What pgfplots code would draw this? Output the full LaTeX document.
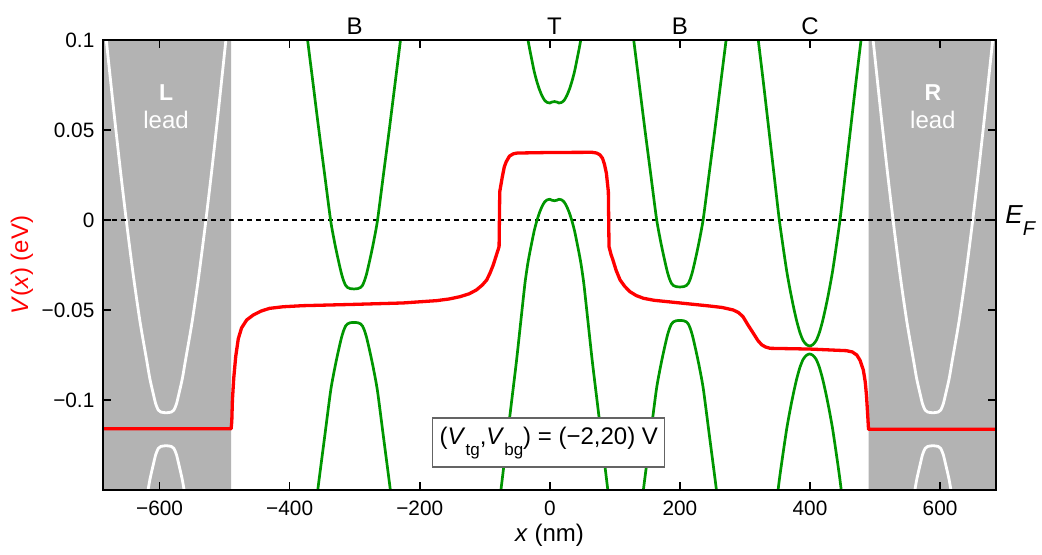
\documentclass[border=0pt]{standalone}
\usepackage{pgfplots}
\pgfplotsset{compat=1.18}
\usepackage{fontspec}
\setmainfont{Liberation Sans}
\definecolor{bandgreen}{RGB}{0,150,0}
\definecolor{leadgray}{RGB}{179,179,179}
\definecolor{boxgray}{RGB}{100,100,100}
% lowered subscript in the style of the labels
\newcommand{\lowsub}[2]{\raisebox{#1}{\fontsize{8.5}{10}\selectfont #2}}

\begin{document}
\begin{tikzpicture}
\begin{axis}[
  name=main, at={(0,0)}, anchor=south west,
  scale only axis, width=446.5pt, height=225pt,
  xmin=-687, xmax=686, ymin=-0.15, ymax=0.1,
  xtick={-600,-400,-200,0,200,400,600},
  xticklabels={−600,−400,−200,0,200,400,600},
  ytick={-0.1,-0.05,0,0.05,0.1},
  yticklabels={−0.1,−0.05,0,0.05,0.1},
  tick align=inside, major tick length=4pt,
  tick style={black, line width=0.8pt},
  axis line style={line width=1pt},
  ticklabel style={font=\fontsize{10.4}{12}\selectfont},
  xticklabel style={yshift=-1.8pt},
  yticklabel style={xshift=-0.8pt},
  label style={font=\fontsize{12}{14}\selectfont},
  xlabel={\textit{x} (nm)},
  ylabel={\textit{V}(\textit{x}) (eV)},
  xlabel style={at={(axis description cs:0.5,0)}, anchor=center, yshift=-22.5pt},
  ylabel style={red, at={(axis description cs:-0.0907,0.5)}, anchor=center},
  clip mode=individual, axis on top,
]
% lead regions
\addplot[draw=none, fill=leadgray] coordinates {(-690,-0.16) (-490,-0.16) (-490,0.11) (-690,0.11) (-690,-0.16)};
\addplot[draw=none, fill=leadgray] coordinates {(490,-0.16) (690,-0.16) (690,0.11) (490,0.11) (490,-0.16)};

% lead bands
\addplot[white, line width=1.4pt, smooth, tension=0.4] coordinates {(-687,0.1174) (-680,0.0933) (-670,0.0593) (-660,0.0268) (-650,-0.0037) (-640,-0.0318) (-630,-0.0567) (-620,-0.0776) (-615,-0.0881) (-610,-0.0961) (-606,-0.1021) (-602,-0.1056) (-598,-0.1067) (-590,-0.1071) (-582,-0.1067) (-578,-0.1056) (-574,-0.1021) (-570,-0.0961) (-565,-0.0881) (-560,-0.0776) (-550,-0.0567) (-540,-0.0318) (-530,-0.0037) (-520,0.0268) (-510,0.0593) (-500,0.0933) (-493,0.1174)};
\addplot[white, line width=1.4pt, smooth, tension=0.4] coordinates {(-630,-0.1758) (-620,-0.1549) (-615,-0.1444) (-610,-0.1364) (-606,-0.1304) (-602,-0.1269) (-598,-0.1258) (-590,-0.1254) (-582,-0.1258) (-578,-0.1269) (-574,-0.1304) (-570,-0.1364) (-565,-0.1444) (-560,-0.1549) (-550,-0.1758)};
\addplot[white, line width=1.4pt, smooth, tension=0.4] coordinates {(492,0.1174) (499,0.0933) (509,0.0593) (519,0.0268) (529,-0.0037) (539,-0.0318) (549,-0.0567) (559,-0.0776) (564,-0.0881) (569,-0.0961) (573,-0.1021) (577,-0.1056) (581,-0.1067) (589,-0.1071) (597,-0.1067) (601,-0.1056) (605,-0.1021) (609,-0.0961) (614,-0.0881) (619,-0.0776) (629,-0.0567) (639,-0.0318) (649,-0.0037) (659,0.0268) (669,0.0593) (679,0.0933) (686,0.1174)};
\addplot[white, line width=1.4pt, smooth, tension=0.4] coordinates {(549,-0.1758) (559,-0.1549) (564,-0.1444) (569,-0.1364) (573,-0.1304) (577,-0.1269) (581,-0.1258) (589,-0.1254) (597,-0.1258) (601,-0.1269) (605,-0.1304) (609,-0.1364) (614,-0.1444) (619,-0.1549) (629,-0.1758)};

% Fermi level
\addplot[black, line width=0.85pt, dash pattern=on 2.7pt off 1.8pt] coordinates {(-687,0) (686,0)};

% band edges in the device
\addplot[bandgreen, line width=1.35pt, smooth, tension=0.4] coordinates {(-377,0.1137) (-373,0.1017) (-364,0.0757) (-355,0.0497) (-346,0.0247) (-337,-0.0003) (-331,-0.0123) (-327,-0.0193) (-323,-0.0258) (-320,-0.0303) (-317,-0.0338) (-314,-0.0363) (-311,-0.0375) (-307,-0.0381) (-301,-0.0383) (-295,-0.0381) (-291,-0.0375) (-288,-0.0363) (-285,-0.0338) (-282,-0.0303) (-279,-0.0258) (-275,-0.0193) (-271,-0.0123) (-265,-0.0003) (-256,0.0247) (-247,0.0497) (-238,0.0757) (-229,0.1017) (-225,0.1137)};
\addplot[bandgreen, line width=1.35pt, smooth, tension=0.4] coordinates {(-364,-0.1709) (-355,-0.1449) (-346,-0.1199) (-337,-0.0949) (-331,-0.0829) (-327,-0.0759) (-323,-0.0694) (-320,-0.0649) (-317,-0.0614) (-314,-0.0589) (-311,-0.0577) (-307,-0.0571) (-301,-0.0569) (-295,-0.0571) (-291,-0.0577) (-288,-0.0589) (-285,-0.0614) (-282,-0.0649) (-279,-0.0694) (-275,-0.0759) (-271,-0.0829) (-265,-0.0949) (-256,-0.1199) (-247,-0.1449) (-238,-0.1709)};
\addplot[bandgreen, line width=1.35pt, smooth, tension=0.4] coordinates {(-42,0.124) (-38,0.111) (-34,0.101) (-31,0.095) (-28,0.0895) (-24,0.0825) (-20,0.077) (-16,0.0725) (-12,0.069) (-8,0.0665) (-4,0.0653) (0,0.065) (3,0.0655) (7,0.0658) (11,0.0655) (14,0.065) (18,0.0653) (22,0.0665) (26,0.069) (30,0.0725) (34,0.077) (38,0.0825) (42,0.0895) (45,0.095) (48,0.101) (52,0.111) (56,0.124)};
\addplot[bandgreen, line width=1.35pt, smooth, tension=0.4] coordinates {(-81,-0.1675) (-76,-0.1525) (-67,-0.1255) (-59,-0.1015) (-51,-0.0775) (-42,-0.0475) (-38,-0.0345) (-34,-0.0245) (-31,-0.0185) (-28,-0.013) (-24,-0.006) (-20,-0.0005) (-16,0.004) (-12,0.0075) (-8,0.010) (-4,0.0112) (0,0.0115) (3,0.011) (7,0.0107) (11,0.011) (14,0.0115) (18,0.0112) (22,0.010) (26,0.0075) (30,0.004) (34,-0.0005) (38,-0.006) (42,-0.013) (45,-0.0185) (48,-0.0245) (52,-0.0345) (56,-0.0475) (65,-0.0775) (73,-0.1015) (81,-0.1255) (90,-0.1525) (95,-0.1675)};
\addplot[bandgreen, line width=1.35pt, smooth, tension=0.4] coordinates {(124,0.1148) (128,0.1028) (137,0.0768) (146,0.0508) (155,0.0258) (164,0.0008) (170,-0.0112) (174,-0.0182) (178,-0.0247) (181,-0.0292) (184,-0.0327) (187,-0.0352) (190,-0.0364) (194,-0.0370) (200,-0.0372) (206,-0.0370) (210,-0.0364) (213,-0.0352) (216,-0.0327) (219,-0.0292) (222,-0.0247) (226,-0.0182) (230,-0.0112) (236,0.0008) (245,0.0258) (254,0.0508) (263,0.0768) (272,0.1028) (276,0.1148)};
\addplot[bandgreen, line width=1.35pt, smooth, tension=0.4] coordinates {(137,-0.1698) (146,-0.1438) (155,-0.1188) (164,-0.0938) (170,-0.0818) (174,-0.0748) (178,-0.0683) (181,-0.0638) (184,-0.0603) (187,-0.0578) (190,-0.0566) (194,-0.0560) (200,-0.0558) (206,-0.0560) (210,-0.0566) (213,-0.0578) (216,-0.0603) (219,-0.0638) (222,-0.0683) (226,-0.0748) (230,-0.0818) (236,-0.0938) (245,-0.1188) (254,-0.1438) (263,-0.1698)};
\addplot[bandgreen, line width=1.35pt, smooth, tension=0.4] coordinates {(315.5,0.115) (319.5,0.103) (328.5,0.076) (336.5,0.051) (344.5,0.026) (352.5,0.001) (359.5,-0.017) (364.5,-0.029) (369.5,-0.039) (374.5,-0.048) (379.5,-0.056) (384.5,-0.0625) (389.5,-0.067) (394.5,-0.0692) (399.5,-0.0700) (404.5,-0.0692) (409.5,-0.067) (414.5,-0.0625) (419.5,-0.056) (424.5,-0.048) (429.5,-0.039) (434.5,-0.029) (439.5,-0.017) (446.5,0.001) (454.5,0.026) (462.5,0.051) (470.5,0.076) (479.5,0.103) (483.5,0.115)};
\addplot[bandgreen, line width=1.35pt, smooth, tension=0.4] coordinates {(336.5,-0.1954) (344.5,-0.1704) (352.5,-0.1454) (359.5,-0.1274) (364.5,-0.1154) (369.5,-0.1054) (374.5,-0.0964) (379.5,-0.0884) (384.5,-0.0819) (389.5,-0.0774) (394.5,-0.0752) (399.5,-0.0744) (404.5,-0.0752) (409.5,-0.0774) (414.5,-0.0819) (419.5,-0.0884) (424.5,-0.0964) (429.5,-0.1054) (434.5,-0.1154) (439.5,-0.1274) (446.5,-0.1454) (454.5,-0.1704) (462.5,-0.1954)};

% electrostatic potential
\addplot[red, line width=1.65pt, line join=round] coordinates {(-687,-0.1160) (-490,-0.1160) (-489,-0.112) (-488,-0.100) (-486,-0.088) (-483,-0.076) (-479,-0.066) (-474,-0.060) (-466,-0.0555) (-456,-0.0528) (-444,-0.0506) (-431,-0.0491) (-410,-0.0482) (-380,-0.0476) (-303,-0.0469) (-226,-0.0461) (-174,-0.0448) (-155,-0.0439) (-138,-0.0426) (-124,-0.0410) (-113,-0.0389) (-104,-0.0362) (-97,-0.0333) (-92,-0.0295) (-87,-0.025) (-78,-0.0148) (-77,0.0157) (-73,0.0241) (-70,0.0295) (-67,0.0324) (-62,0.0355) (-56,0.0368) (-50,0.0372) (0,0.0375) (65,0.0376) (72,0.0372) (77,0.0362) (81,0.0343) (84,0.031) (87,0.0259) (90,0.0157) (91,-0.0148) (94,-0.019) (97,-0.0222) (102,-0.028) (108,-0.0333) (115,-0.0368) (123,-0.0398) (133,-0.0420) (144,-0.0435) (160,-0.0446) (195,-0.0459) (246,-0.0478) (265,-0.0486) (282,-0.0500) (290,-0.0514) (297,-0.0537) (305,-0.0585) (313,-0.0630) (320,-0.0670) (326,-0.0694) (332,-0.0706) (339,-0.0713) (400,-0.0717) (456,-0.0726) (465,-0.0733) (472,-0.0750) (477,-0.0780) (482,-0.0833) (485,-0.0900) (487,-0.0981) (489,-0.110) (490,-0.1163) (686,-0.1163)};

% annotations
\node[white, font=\fontsize{11.5}{13}\selectfont\bfseries] at (axis cs:-590,0.0707) {L};
\node[white, font=\fontsize{12}{14}\selectfont] at (axis cs:-590,0.0554) {lead};
\node[white, font=\fontsize{11.5}{13}\selectfont\bfseries] at (axis cs:589,0.0707) {R};
\node[white, font=\fontsize{12}{14}\selectfont] at (axis cs:589,0.0554) {lead};
\foreach \xx/\lab in {-300/B, 7/T, 200/B, 400/C}{
  \edef\tmp{\noexpand\node[anchor=base, font=\noexpand\fontsize{12}{14}\noexpand\selectfont] at (axis cs:\xx,0.1) [yshift=2.5pt] {\lab};}
  \tmp
}
\node[anchor=base west, inner sep=0, font=\fontsize{13}{15}\selectfont] at (axis cs:686,-0.0022) [xshift=4.5pt] {\textit{E}\lowsub{-6pt}{\fontsize{10}{12}\selectfont\textit{F}}};
\node[draw=boxgray, line width=0.6pt, fill=white, minimum width=116pt, minimum height=24.5pt, inner sep=0] at (axis cs:-1.5,-0.1236) {};
\node[anchor=base, inner sep=0, font=\fontsize{12}{14}\selectfont] at (axis cs:-1.5,-0.125) {(\textit{V}\lowsub{-5.5pt}{tg},\textit{V}\lowsub{-5.5pt}{bg}) = (−2,20) V};
\end{axis}
\pgfresetboundingbox
\path[use as bounding box] (-51.5pt,-32.5pt) rectangle (469.5pt,245pt);
\end{tikzpicture}
\end{document}
